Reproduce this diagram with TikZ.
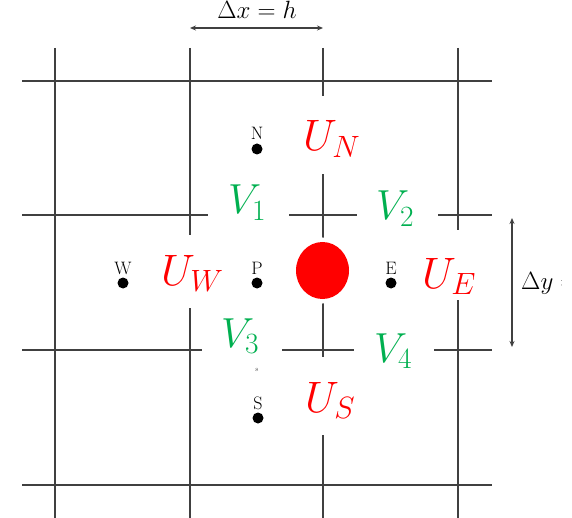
\RequirePackage{fix-cm}
\documentclass[tikz,border=0pt]{standalone}
\usetikzlibrary{arrows.meta,shapes.geometric}
\definecolor{ured}{RGB}{255,0,0}
\definecolor{vgreen}{RGB}{0,176,80}
\begin{document}
\begin{tikzpicture}[x=1pt,y=-1pt,
  gridline/.style={line width=1.6pt, draw=black!75},
  ulab/.style={text=ured, inner sep=0pt, anchor=base west, font=\fontsize{44}{50}\selectfont},
  vlab/.style={text=vgreen, inner sep=0pt, anchor=base west, font=\fontsize{42}{50}\selectfont},
  gpt/.style={circle, fill=black, inner sep=0pt, minimum size=11pt},
  ptlab/.style={inner sep=0pt, anchor=base, font=\fontsize{18}{20}\selectfont},
  dimline/.style={line width=1.3pt, draw=black!75, {Stealth[length=6pt,width=5pt]}-{Stealth[length=6pt,width=5pt]}},
  dimlab/.style={inner sep=0pt, font=\fontsize{25}{28}\selectfont}
]
\useasboundingbox (0,0) rectangle (572,518);
\fill[white] (0,0) rectangle (572,518);

% grid
\foreach \gx in {55,190,323,458} \draw[gridline] (\gx,48) -- (\gx,518);
\foreach \gy in {81,215,350,485} \draw[gridline] (22,\gy) -- (492,\gy);

% dimension arrows
\coordinate (dxa) at (190,28);
\coordinate (dxb) at (323,28);
\coordinate (dya) at (512,218);
\coordinate (dyb) at (512,347);
\draw[dimline] (dxa) -- (dxb);
\draw[dimline] (dya) -- (dyb);
\node[dimlab, anchor=base] (dxlab) at (257,19) {$\Delta x = h$};
\begin{scope}
  \clip (0,0) rectangle (561,518);
  \node[dimlab, anchor=base west] (dylab) at (521,290) {$\Delta y =$};
\end{scope}

% white boxes behind the labels
\fill[white] (295,96) rectangle (367,174);   % U_N
\fill[white] (158,235) rectangle (222,308);  % U_W
\fill[white] (420,230) rectangle (480,300);  % U_E
\fill[white] (300,357) rectangle (360,435);  % U_S
\fill[white] (208,190) rectangle (289,240);  % V_1
\fill[white] (357,190) rectangle (438,240);  % V_2
\fill[white] (202,325) rectangle (282,375);  % V_3
\fill[white] (354,325) rectangle (434,375);  % V_4

% red marker
\fill[white] (322.5,270.5) ellipse [x radius=30, y radius=33];
\node[ellipse, fill=ured, inner sep=0pt, minimum width=53pt, minimum height=57pt] (mk) at (322.5,270.5) {};

% grid points
\node[gpt] (N) at (257,149) {};
\node[gpt] (W) at (123,283) {};
\node[gpt] (P) at (257,283) {};
\node[gpt] (E) at (391,283) {};
\node[gpt] (S) at (258,418) {};
\node[ptlab] (Nl) at (257,140) {N};
\node[ptlab] (Wl) at (123,274) {W};
\node[ptlab] (Pl) at (257,274) {P};
\node[ptlab] (El) at (391,274) {E};
\node[ptlab] (Sl) at (258,409) {S};
\node[inner sep=0pt, font=\fontsize{7}{8}\selectfont, text=black!70] (tiny) at (257,370) {s};

% velocity labels
\node[ulab] (UN) at (303,151) {$U_N$};
\node[ulab] (UW) at (161,285) {$U_W$};
\node[ulab] (UE) at (422,288) {$U_E$};
\node[ulab] (US) at (305,412) {$U_S$};
\node[vlab] (V1) at (228,214) {$V_1$};
\node[vlab] (V2) at (376,220) {$V_2$};
\node[vlab] (V3) at (221,347) {$V_3$};
\node[vlab] (V4) at (374,362) {$V_4$};
\end{tikzpicture}
\end{document}
